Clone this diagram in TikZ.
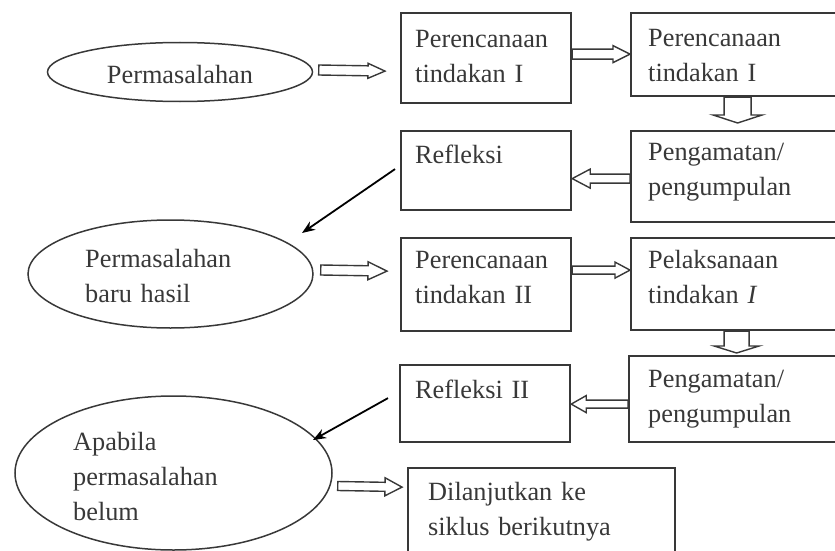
\documentclass[tikz,border=0pt]{standalone}
\usepackage{fontspec}
\setmainfont{Liberation Serif}
\usetikzlibrary{arrows.meta,shapes.geometric,calc}
\definecolor{boxc}{HTML}{383838}
\definecolor{txtc}{HTML}{383838}
\begin{document}
\begin{tikzpicture}[x=1pt,y=-1pt,
  box/.style={draw=boxc, line width=2.2pt, rectangle, inner sep=0pt, anchor=north west},
  ell/.style={draw=boxc, line width=1.5pt, ellipse, inner sep=0pt},
  txt/.style={anchor=base west, inner sep=0pt, text=txtc, text width=260pt, align=left,
    font=\fontsize{26.3}{35}\selectfont},
  hol/.style n args={3}{draw=boxc, line width=1.4pt, line join=miter, to path={
    ($(\tikztostart)!#1!90:(\tikztotarget)$)
    -- ($($(\tikztotarget)!#3!(\tikztostart)$)!#1!90:(\tikztotarget)$)
    -- ($($(\tikztotarget)!#3!(\tikztostart)$)!#2!90:(\tikztotarget)$)
    -- (\tikztotarget)
    -- ($($(\tikztotarget)!#3!(\tikztostart)$)!#2!-90:(\tikztotarget)$)
    -- ($($(\tikztotarget)!#3!(\tikztostart)$)!#1!-90:(\tikztotarget)$)
    -- ($(\tikztostart)!#1!-90:(\tikztotarget)$) -- cycle}},
  blk/.style={draw=black, line width=1.8pt, -{Stealth[length=13pt,width=10pt]}}]
\useasboundingbox (0,0) rectangle (835,551);
\clip (0,0) rectangle (835,551);
% boxes
\node[box, minimum width=170pt, minimum height=90pt] (a1) at (400,12) {};
\node[box, minimum width=210pt, minimum height=83pt] (a2) at (630,12) {};
\node[box, minimum width=170pt, minimum height=79pt] (b1) at (400,130) {};
\node[box, minimum width=210pt, minimum height=91pt] (b2) at (630,130) {};
\node[box, minimum width=170pt, minimum height=93pt] (c1) at (400,237) {};
\node[box, minimum width=210pt, minimum height=92pt] (c2) at (630,237) {};
\node[box, minimum width=170pt, minimum height=77pt] (d1) at (399,364) {};
\node[box, minimum width=212pt, minimum height=86pt] (d2) at (628,355) {};
\node[box, minimum width=267pt, minimum height=95pt] (eb) at (407,467) {};
% ellipses
\node[ell, minimum width=265pt, minimum height=59pt] (e1) at (180,72) {};
\node[ell, minimum width=285pt, minimum height=108pt] (e2) at (170.5,274) {};
\node[ell, minimum width=317pt, minimum height=154pt] (e3) at (173.5,473) {};
% texts
\node[txt] (ta1) at (415,48) {Perencanaan\\tindakan I};
\node[txt] (ta2) at (648,47) {Perencanaan\\tindakan I};
\node[txt] (tb1) at (415,163) {Refleksi};
\node[txt] (tb2) at (648,160) {Pengamatan/\\pengumpulan};
\node[txt] (tc1) at (415,268) {Perencanaan\\tindakan II};
\node[txt] (tc2) at (648,268) {Pelaksanaan\\tindakan \textit{I}};
\node[txt] (td1) at (415,398) {Refleksi II};
\node[txt] (td2) at (648,387) {Pengamatan/\\pengumpulan};
\node[txt] (teb) at (428,500) {Dilanjutkan ke\\siklus berikutnya};
\node[txt, anchor=base, text width=, align=center] (te1) at (180,83) {Permasalahan};
\node[txt] (te2) at (85,267) {Permasalahan\\baru hasil};
\node[txt] (te3) at (73,450) {Apabila\\permasalahan\\belum};
% hollow arrows
\draw[hol={5pt}{7.5pt}{17pt}] ([xshift=5.5pt,yshift=2pt]e1.east) to ([xshift=-15pt,yshift=-13pt]a1.west);
\draw[hol={5pt}{8.5pt}{17pt}] ([yshift=4pt]a1.east) to ([yshift=0.5pt]a2.west);
\draw[hol={13.5pt}{24.5pt}{8pt}] ([xshift=1.5pt]a2.south) to ([xshift=1.5pt,yshift=7pt]b2.north);
\draw[hol={4.5pt}{9.5pt}{18pt}] ([yshift=-2pt]b2.west) to ([yshift=-8pt]b1.east);
\draw[hol={5pt}{9pt}{19pt}] ([xshift=7pt,yshift=4pt]e2.east) to ([xshift=-13pt,yshift=13.5pt]c1.west);
\draw[hol={4pt}{8pt}{15pt}] ([yshift=14.5pt]c1.east) to ([yshift=14pt]c2.west);
\draw[hol={12.5pt}{22.5pt}{7pt}] ([xshift=0.5pt]c2.south) to ([xshift=1.5pt,yshift=2pt]d2.north);
\draw[hol={4pt}{8.5pt}{15pt}] ([yshift=-5pt]d2.west) to ([yshift=-0.5pt]d1.east);
\draw[hol={4.5pt}{9pt}{17pt}] ([xshift=5pt,yshift=-13pt]e3.east) to ([xshift=-5pt,yshift=28.5pt]eb.west);
% black arrows
\coordinate (p1) at (302,233);
\coordinate (p2) at (313,440);
\draw[blk] ([xshift=-5pt,yshift=1.5pt]b1.west) -- (p1);
\draw[blk] ([xshift=-11pt,yshift=5.5pt]d1.west) -- (p2);
\end{tikzpicture}
\end{document}
